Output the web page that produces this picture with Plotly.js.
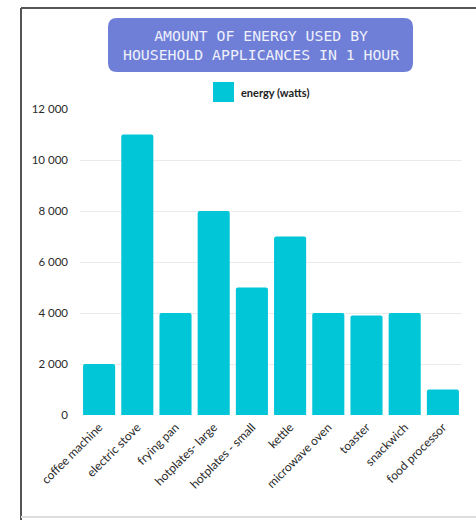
<!DOCTYPE html>
<html>
<head>
<meta charset="utf-8">
<script src="https://cdn.plot.ly/plotly-3.0.1.min.js"></script>
<style>html,body{margin:0;padding:0;background:#fff;}#chart{width:476px;height:520px;}</style>
</head>
<body>
<div id="chart"></div>
<script>
const categories = ["coffee machine","electric stove","frying pan","hotplates- large","hotplates - small","kettle","microwave oven","toaster","snackwich","food processor"];
const energyWatts = [2000, 11000, 4000, 8000, 5000, 7000, 4000, 3900, 4000, 1000];
const seriesName = "energy (watts)";
const titleLines = ["AMOUNT OF ENERGY USED BY", "HOUSEHOLD APPLICANCES IN 1 HOUR"];
const yTicks = [0, 2000, 4000, 6000, 8000, 10000, 12000];

const W = 476, H = 520;
const M = {l: 80, r: 14, t: 109, b: 105};
const pw = W - M.l - M.r, ph = H - M.t - M.b;
const px = x => (x - M.l) / pw;
const py = y => (H - M.b - y) / ph;

function roundRect(x0, y0, x1, y1, r) {
  const p = (x, y) => px(x) + ',' + py(y);
  return 'M' + p(x0 + r, y0) + ' L' + p(x1 - r, y0) + ' Q' + p(x1, y0) + ' ' + p(x1, y0 + r) +
    ' L' + p(x1, y1 - r) + ' Q' + p(x1, y1) + ' ' + p(x1 - r, y1) +
    ' L' + p(x0 + r, y1) + ' Q' + p(x0, y1) + ' ' + p(x0, y1 - r) +
    ' L' + p(x0, y0 + r) + ' Q' + p(x0, y0) + ' ' + p(x0 + r, y0) + ' Z';
}

const FONT = 'Lato, "Open Sans", sans-serif';

const trace = {
  type: 'bar',
  x: categories,
  y: energyWatts,
  name: seriesName,
  marker: {color: '#00c6d7', cornerradius: 2},
  showlegend: false,
  hovertemplate: '%{x}: %{y}<extra></extra>'
};

const layout = {
  width: W, height: H,
  margin: M,
  paper_bgcolor: '#ffffff',
  plot_bgcolor: '#ffffff',
  separators: '. ',
  bargap: 0.16,
  font: {family: FONT, color: '#333333', size: 11},
  xaxis: {
    type: 'category',
    tickangle: -45,
    tickfont: {family: FONT, size: 12, color: '#2a2a2a'},
    showgrid: false, zeroline: false, showline: false, ticks: '',
    ticklabelstandoff: 2
  },
  yaxis: {
    range: [0, 12000],
    tickvals: yTicks,
    tickformat: ',d',
    tickfont: {family: FONT, size: 11.5, color: '#2a2a2a'},
    showgrid: true, gridcolor: '#ebebeb', gridwidth: 1,
    zeroline: false, showline: false, ticks: '',
    ticklabelstandoff: 11
  },
  shapes: [
    {type: 'line', xref: 'paper', yref: 'paper', x0: px(21), x1: px(21), y0: py(8), y1: py(520), line: {color: '#555555', width: 2}},
    {type: 'line', xref: 'paper', yref: 'paper', x0: px(21), x1: px(476), y0: py(8), y1: py(8), line: {color: '#555555', width: 2}},
    {type: 'line', xref: 'paper', yref: 'paper', x0: px(21), x1: px(476), y0: py(517), y1: py(517), line: {color: '#dddddd', width: 2}},
    {type: 'path', xref: 'paper', yref: 'paper', path: roundRect(108, 18, 413, 72, 9), fillcolor: '#6f7fd8', line: {width: 0}},
    {type: 'rect', xref: 'paper', yref: 'paper', x0: px(213), x1: px(234), y0: py(82), y1: py(102), fillcolor: '#00c6d7', line: {width: 0}}
  ],
  annotations: [
    {xref: 'paper', yref: 'paper', x: px(260.5), y: py(45), xanchor: 'center', yanchor: 'middle', showarrow: false,
     text: titleLines.join('<br>'), align: 'center',
     font: {family: '"DejaVu Sans Mono", monospace', size: 14.8, color: '#eef0fb'}},
    {xref: 'paper', yref: 'paper', x: px(239), y: py(92), xanchor: 'left', yanchor: 'middle', showarrow: false,
     text: '<b>' + seriesName + '</b>', font: {family: FONT, size: 11, color: '#222222'}}
  ]
};

Plotly.newPlot('chart', [trace], layout, {displayModeBar: false, staticPlot: true});
</script>
</body>
</html>
